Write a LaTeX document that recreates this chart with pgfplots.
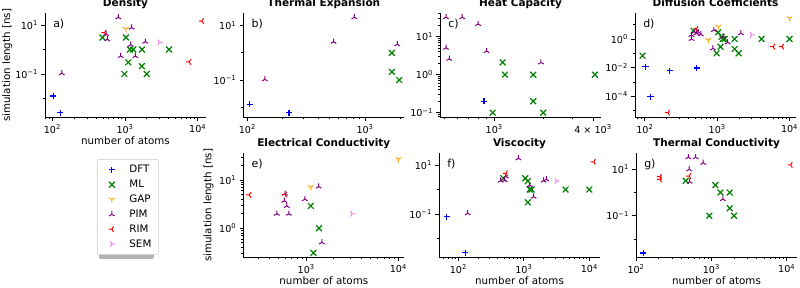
\documentclass[border=0pt]{standalone}
\usepackage{fontspec}
\setmainfont{DejaVu Sans}
\usepackage{pgfplots}
\pgfplotsset{compat=1.18}
\newcommand{\tp}[1]{10\textsuperscript{#1}}
\definecolor{cDFT}{RGB}{0,0,255}
\definecolor{cML}{RGB}{0,128,0}
\definecolor{cGAP}{RGB}{255,165,0}
\definecolor{cPIM}{RGB}{128,0,128}
\definecolor{cRIM}{RGB}{255,0,0}
\definecolor{cSEM}{RGB}{238,130,238}
\tikzset{plab/.style={anchor=west, inner sep=0pt, font=\fontsize{11}{12}\selectfont}}
\pgfplotsset{
  every axis title/.style={at={(0.5,1)}, anchor=base, yshift=6.5pt, inner sep=0pt, font=\fontsize{10.5}{12}\selectfont\bfseries},
  every axis/.append style={
    scale only axis, width=161pt, height=104pt,
    anchor=south west,
    axis x line*=bottom, axis y line*=left,
    x axis line style={-}, y axis line style={-},
    axis line style={line width=0.8pt, black},
    tick align=outside, tick pos=left,
    major tick length=3.6pt, minor tick length=2.1pt,
    every tick/.style={black, line width=0.8pt},
    tick label style={font=\fontsize{9.6}{11}\selectfont},
    label style={font=\fontsize{10.3}{12}\selectfont},
    xlabel style={at={(axis description cs:0.5,-0.257)}, anchor=base, inner sep=0pt},
  },
  mylegimg/.style={legend image code/.code={\draw[mark repeat=2,mark phase=2,##1] plot coordinates {(0pt,0pt)(9pt,0pt)(18pt,0pt)};\path (0pt,0pt) (24pt,0pt);}},
  DFT/.style={only marks, mark=+, color=cDFT, mark size=3.1pt, line width=1.2pt, mylegimg},
  ML/.style={only marks, mark=x, color=cML, mark size=4.1pt, line width=1.2pt, mylegimg},
  GAP/.style={only marks, mark=Mercedes star flipped, color=cGAP, mark size=3.2pt, line width=1pt, mylegimg},
  PIM/.style={only marks, mark=Mercedes star, color=cPIM, mark size=3.2pt, line width=1pt, mylegimg},
  RIM/.style={only marks, mark=Mercedes star, mark options={rotate=90}, color=cRIM, mark size=3.2pt, line width=1pt, mylegimg},
  SEM/.style={only marks, mark=Mercedes star, mark options={rotate=-90}, color=cSEM, mark size=3.2pt, line width=1pt, mylegimg},
}
\begin{document}
\begin{tikzpicture}
\useasboundingbox (0,0) rectangle (800pt,287pt);

% ---------------- a) Density
\begin{axis}[xmode=log, ymode=log, at={(45pt,169.7pt)},
  title={Density}, xlabel={number of atoms}, ylabel={simulation length [ns]},
  ylabel style={at={(axis description cs:-0.217,0.5)}, anchor=base},
  xmin=79.4, xmax=13000, ymin=0.00171, ymax=30.1,
  xtick={100,1000,10000}, xticklabels={\tp{2},\tp{3},\tp{4}},
  minor xtick={80,90,200,300,400,500,600,700,800,900,2000,3000,4000,5000,6000,7000,8000,9000},
  ytick={0.1,10}, yticklabels={\tp{−1},\tp{1}}, minor ytick={0.01,1}]
\addplot[DFT] coordinates {(103,0.0126) (129,0.0026)};
\addplot[ML] coordinates {(490,3.1) (1030,3.1) (1170,1.0) (1300,1.0) (1710,1.0) (4030,1.0) (1110,0.30) (1710,0.21) (980,0.10) (1990,0.10)};
\addplot[GAP] coordinates {(1030,6.9)};
\addplot[PIM] coordinates {(809,20.6) (1236,7.8) (548,4.3) (571,2.6) (135,0.107) (871,0.54) (1197,1.57) (1387,0.54) (1900,2.08)};
\addplot[RIM] coordinates {(525,4.85) (11450,14.6) (7650,0.31)};
\addplot[SEM] coordinates {(2970,1.97)};
\node[plab] at (rel axis cs:0.05,0.897) {a)};
\end{axis}

% ---------------- b) Thermal Expansion
\begin{axis}[xmode=log, ymode=log, at={(243.3pt,169.7pt)},
  title={Thermal Expansion},
  xmin=92.5, xmax=2157, ymin=0.00423, ymax=28.7,
  xtick={100,1000}, xticklabels={\tp{2},\tp{3}},
  minor xtick={200,300,400,500,600,700,800,900,2000},
  ytick={0.1,10}, yticklabels={\tp{−1},\tp{1}}, minor ytick={0.01,1}]
\addplot[DFT] coordinates {(105,0.0127) (226,0.0063)};
\addplot[ML] coordinates {(1690,1.0) (1690,0.2) (1950,0.1)};
\addplot[PIM] coordinates {(141,0.106) (540,2.57) (812,20.5) (1880,2.07)};
\node[plab] at (rel axis cs:0.05,0.897) {b)};
\end{axis}

% ---------------- c) Heat Capacity
\begin{axis}[xmode=log, ymode=log, at={(440pt,169.7pt)},
  title={Heat Capacity},
  xmin=467, xmax=4480, ymin=0.0757, ymax=41.3,
  xtick={1000,4000}, xticklabels={\tp{3},4 × \tp{3}},
  minor xtick={500,600,700,800,900,2000,3000},
  ytick={0.1,1,10}, yticklabels={\tp{−1},\tp{0},\tp{1}},
  minor ytick={0.08,0.09,0.2,0.3,0.4,0.5,0.6,0.7,0.8,0.9,2,3,4,5,6,7,8,9,20,30,40}]
\addplot[DFT] coordinates {(865,0.2)};
\addplot[ML] coordinates {(1125,2.1) (1162,1.0) (1730,1.0) (1730,0.2) (978,0.1) (1990,0.1) (4110,1.0)};
\addplot[PIM] coordinates {(508,32.6) (638,32.6) (798,21.6) (508,5.1) (532,2.6) (899,4.2) (1928,2.1)};
\node[plab] at (rel axis cs:0.05,0.897) {c)};
\end{axis}

% ---------------- d) Diffusion Coefficients
\begin{axis}[xmode=log, ymode=log, at={(635pt,169.7pt)},
  title={Diffusion Coefficients},
  xmin=73.1, xmax=12300, ymin=3.43e-6, ymax=62,
  xtick={100,1000,10000}, xticklabels={\tp{2},\tp{3},\tp{4}},
  minor xtick={80,90,200,300,400,500,600,700,800,900,2000,3000,4000,5000,6000,7000,8000,9000},
  ytick={1e-4,1e-2,1}, yticklabels={\tp{−4},\tp{−2},\tp{0}}, minor ytick={1e-5,1e-3,0.1,10}]
\addplot[DFT] coordinates {(102,0.0117) (221,0.0061) (522,0.0095) (120,9.5e-5)};
\addplot[ML] coordinates {(93,0.068) (471,3.8) (1033,2.9) (1150,1.45) (1196,1.0) (1274,1.0) (1112,0.29) (981,0.1) (1742,1.0) (1742,0.2) (1977,0.1) (4110,1.0) (10000,1.0)};
\addplot[GAP] coordinates {(754,0.85) (1033,7.2) (10000,28)};
\addplot[PIM] coordinates {(442,1.9) (442,1.0) (481,3.2) (550,2.9) (594,2.1) (517,2.5) (902,4.2) (1207,1.45) (1400,0.59) (873,0.22) (2120,2.5)};
\addplot[RIM] coordinates {(517,5.0) (5940,0.29) (7880,0.29) (209,7.2e-6)};
\addplot[SEM] coordinates {(3000,1.9)};
\node[plab] at (rel axis cs:0.05,0.897) {d)};
\end{axis}

% ---------------- e) Electrical Conductivity
\begin{axis}[xmode=log, ymode=log, at={(243.3pt,29.7pt)}, clip=false,
  title={Electrical Conductivity}, xlabel={number of atoms}, ylabel={simulation length [ns]},
  ylabel style={at={(axis description cs:-0.199,0.5)}, anchor=base},
  xmin=208, xmax=11620, ymin=0.251, ymax=35.7,
  xtick={1000,10000}, xticklabels={\tp{3},\tp{4}},
  minor xtick={300,400,500,600,700,800,900,2000,3000,4000,5000,6000,7000,8000,9000},
  ytick={1,10}, yticklabels={\tp{0},\tp{1}},
  minor ytick={0.3,0.4,0.5,0.6,0.7,0.8,0.9,2,3,4,5,6,7,8,9,20,30},
  legend style={at={(-0.909,0.945)}, anchor=north west, draw=black!20, line width=0.6pt,
    rounded corners=2pt, fill=white,
    font=\fontsize{10.3}{12}\selectfont, row sep=1.8pt, inner xsep=5pt, inner ysep=4pt},
  legend cell align=left]
\fill[black!30, rounded corners=2pt] (axis description cs:-0.8965,0.936) rectangle (axis description cs:-0.555,-0.016);
\addplot[ML, forget plot] coordinates {(1125,2.9) (1380,1.0) (1200,0.31)};
\addplot[GAP, forget plot] coordinates {(1125,7.1) (10000,27)};
\addplot[PIM, forget plot] coordinates {(590,5.2) (580,3.7) (617,2.9) (480,2.0) (650,2.0) (968,4.0) (1365,7.3) (1480,0.51)};
\addplot[RIM, forget plot] coordinates {(242,4.9) (590,5.0)};
\addplot[SEM, forget plot] coordinates {(3150,2.0)};
\addlegendimage{DFT}\addlegendentry{DFT}
\addlegendimage{ML}\addlegendentry{ML}
\addlegendimage{GAP}\addlegendentry{GAP}
\addlegendimage{PIM}\addlegendentry{PIM}
\addlegendimage{RIM}\addlegendentry{RIM}
\addlegendimage{SEM}\addlegendentry{SEM}
\node[plab] at (rel axis cs:0.05,0.897) {e)};
\end{axis}

% ---------------- f) Viscocity
\begin{axis}[xmode=log, ymode=log, at={(439pt,29.7pt)},
  title={Viscocity}, xlabel={number of atoms},
  xmin=50.7, xmax=14550, ymin=0.00171, ymax=30.1,
  xtick={100,1000,10000}, xticklabels={\tp{2},\tp{3},\tp{4}},
  minor xtick={60,70,80,90,200,300,400,500,600,700,800,900,2000,3000,4000,5000,6000,7000,8000,9000},
  ytick={0.1,10}, yticklabels={\tp{−1},\tp{1}}, minor ytick={0.01,1}]
\addplot[DFT] coordinates {(66.6,0.078) (127,0.0026)};
\addplot[ML] coordinates {(486,2.9) (1050,2.9) (1150,2.2) (1230,1.0) (1310,1.0) (1150,0.3) (4340,1.0) (10000,1.0)};
\addplot[PIM] coordinates {(139,0.107) (824,18.7) (506,2.4) (444,2.3) (1230,1.5) (1410,0.51) (2000,2.3) (2200,2.6) (530,3.4)};
\addplot[RIM] coordinates {(534,4.6) (11700,13.6)};
\addplot[SEM] coordinates {(3150,2.2)};
\node[plab] at (rel axis cs:0.05,0.897) {f)};
\end{axis}

% ---------------- g) Thermal Conductivity
\begin{axis}[xmode=log, ymode=log, at={(636pt,29.7pt)},
  title={Thermal Conductivity}, xlabel={number of atoms},
  xmin=100, xmax=13700, ymin=0.00162, ymax=49,
  xtick={100,1000,10000}, xticklabels={\tp{2},\tp{3},\tp{4}},
  minor xtick={200,300,400,500,600,700,800,900,2000,3000,4000,5000,6000,7000,8000,9000},
  ytick={0.1,10}, yticklabels={\tp{−1},\tp{1}}, minor ytick={0.01,1}]
\addplot[DFT] coordinates {(125,0.0025)};
\addplot[ML] coordinates {(457,3.2) (1130,2.1) (1320,1.0) (1750,1.0) (1750,0.21) (940,0.1) (2000,0.1)};
\addplot[PIM] coordinates {(495,33) (620,33) (780,19) (507,10) (515,2.9) (1420,0.52)};
\addplot[RIM] coordinates {(208,4.8) (208,3.7) (507,5.1) (11300,15.4)};
\node[plab] at (rel axis cs:0.05,0.897) {g)};
\end{axis}
\end{tikzpicture}
\end{document}
